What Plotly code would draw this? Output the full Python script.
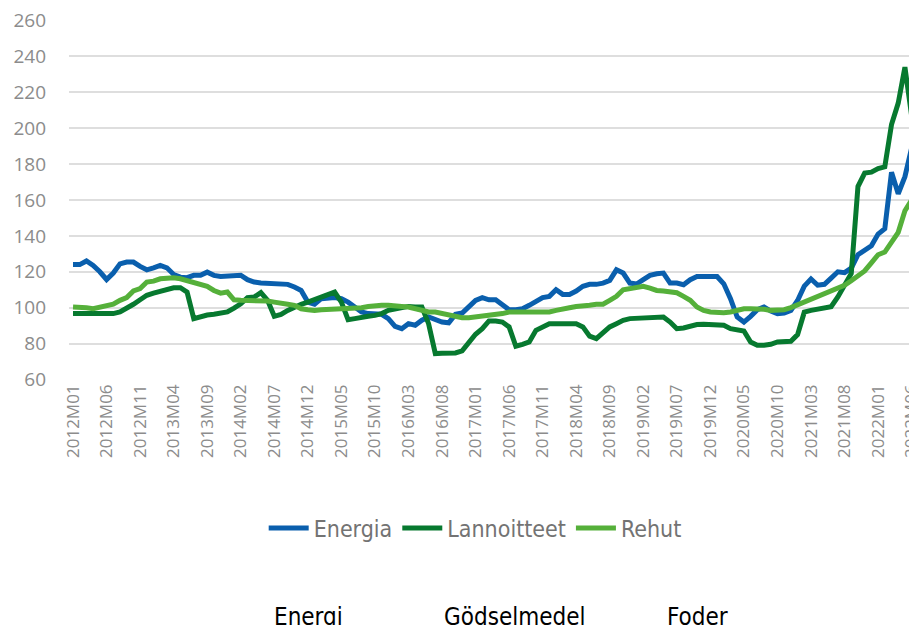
import plotly.graph_objects as go

# months 2012M01 .. 2022M07
months = []
for year in range(2012, 2023):
    for m in range(1, 13):
        months.append(f"{year}M{m:02d}")
months = months[:127]
tick_labels = months[::5]

energia = [
    124, 124, 126, 123.5, 120, 115.7, 119.3, 124.4, 125.4, 125.4,
    123, 121.1, 122.2, 123.5, 122.2, 118.5, 117, 116.7, 118, 118,
    119.8, 118, 117.4, 117.8, 117.8, 118.1, 115.6, 114.3, 113.8, 113.7,
    113.7, 113.3, 113, 111.5, 109.6, 103.1, 101.9, 105, 105.6, 105.6,
    105, 103.1, 100.4, 97.6, 96.7, 96.7, 96.3, 93.9, 89.6, 88.3,
    91.1, 90.2, 93, 94.8, 93.3, 92, 91.6, 96.3, 97, 100.4,
    104.1, 105.6, 104.4, 104.4, 101.3, 98.9, 98.9, 99.4, 101.3, 103.1,
    105.6, 106.3, 110, 107.4, 107.4, 109.3, 111.9, 113, 113, 113.7,
    115.2, 121.1, 119.3, 113.7, 113.2, 115.6, 118, 118.9, 119.3, 113.7,
    113.7, 112.8, 115.6, 117.4, 117.4, 117.4, 117.4, 113.3, 105, 94.8,
    92, 95.2, 98.9, 100.4, 98.1, 96.7, 97, 98.5, 104, 112,
    116, 112.5, 113, 116.5, 120, 119.5, 122, 129.5, 132, 134.5,
    141, 144, 175.5, 163.5, 173, 189, 180,
]

lannoitteet = [
    96.7, 96.7, 96.7, 96.7, 96.7, 96.7, 96.7, 97.6, 99.4, 101.9,
    104.4, 106.9, 108.1, 109.3, 110.2, 111.1, 111.1, 108.7, 93.9, 95.2,
    95.9, 96.3, 96.7, 97.6, 99.8, 102.2, 105.6, 105.9, 108.4, 104.1,
    95.2, 96.3, 98.5, 100.4, 101.9, 103.1, 104.4, 105.9, 107.4, 108.7,
    103.1, 93.3, 93.9, 94.8, 95.2, 95.7, 96.7, 98.5, 99.4, 100.4,
    100.7, 100.4, 100.4, 91.1, 74.4, 74.6, 74.8, 74.8, 75.9, 80.4,
    85.2, 88.3, 92.6, 92.6, 92, 89.3, 78.5, 79.6, 80.9, 87.4,
    89.6, 91.1, 91.1, 91.1, 91.1, 91.1, 89.3, 84.1, 82.8, 86.5,
    89.3, 91.1, 93, 93.9, 94.1, 94.4, 94.4, 94.4, 94.8, 92,
    88.3, 88.7, 89.6, 90.6, 90.7, 90.7, 90.7, 90.2, 88.3, 87.8,
    87, 80.9, 79.1, 79.1, 79.6, 80.9, 80.9, 81.3, 85, 97.5,
    98.5, 99, 99.3, 100.5, 106, 112, 119, 167.5, 175, 175.5,
    177.5, 178.5, 202, 214, 234, 207, 201,
]

rehut = [
    100.4, 100.4, 100, 99.4, 100.4, 101.3, 101.9, 104.1, 105.6, 109.3,
    110.6, 114.3, 114.8, 116.1, 116.7, 116.7, 116.1, 115.2, 114.3, 113.3,
    111.9, 109.6, 108.1, 108.7, 104.4, 104.1, 104.1, 103.9, 103.9, 103.7,
    103.1, 102.2, 101.9, 101.3, 99.4, 98.9, 98.5, 98.9, 99.1, 99.4,
    99.4, 99.4, 99.4, 100, 100.7, 101.3, 101.3, 101.3, 101.3, 100.7,
    100.4, 99.4, 98.5, 97.6, 97.6, 96.9, 95.7, 94.8, 94.4, 94.4,
    94.8, 94.8, 95.2, 95.7, 96.7, 97.6, 97.6, 97.6, 97.6, 97,
    97, 97.6, 98.5, 98.9, 100, 100.7, 100.7, 101.3, 101.9, 101.9,
    104.1, 106.3, 110, 110.6, 111.5, 111.9, 110.9, 109.6, 109.3, 108.7,
    108.3, 106.3, 104.1, 100.4, 98.5, 97.6, 97.2, 97.2, 97.6, 98.5,
    99.4, 99.4, 99.4, 99.1, 98.5, 98.5, 98.9, 100, 101.5, 103,
    104.5, 106, 107.5, 109, 110.5, 112.5, 115, 118, 120.5, 125,
    129.5, 131, 137, 142, 154, 160, 161.5,
]

y_ticks = [60, 80, 100, 120, 140, 160, 180, 200, 220, 240, 260]

series = [
    ("Energia", energia, "#0a5fad"),
    ("Lannoitteet", lannoitteet, "#07792f"),
    ("Rehut", rehut, "#55b03a"),
]

fig = go.Figure()
for name, vals, col in series:
    fig.add_trace(go.Scatter(
        x=months, y=vals, mode="lines", name=name,
        line=dict(color=col, width=5),
    ))

fig.update_xaxes(
    type="category",
    range=[-0.6, 125.8],
    tickmode="array", tickvals=tick_labels, ticktext=tick_labels,
    tickangle=-90,
    tickfont=dict(family="Open Sans, sans-serif", size=17, color="#8c8c8c"),
    showgrid=False, showline=False, zeroline=False, ticks="",
    automargin=False, ticklabeloverflow="allow",
)
fig.update_yaxes(
    range=[59.7, 260.3],
    tickvals=y_ticks,
    tickfont=dict(family="Open Sans, sans-serif", size=19, color="#8c8c8c"),
    showgrid=True, gridcolor="#dedede", gridwidth=1.5,
    zeroline=False, showline=False, ticks="",
    ticklabelstandoff=22, automargin=False, ticklabeloverflow="allow",
)

# labels of the chart below, cut off at the bottom
for txt, xp in [("Energi", 308), ("Gödselmedel", 515), ("Foder", 697)]:
    fig.add_annotation(
        x=(xp - 69) / 848, y=(380 - 617) / 360, xref="paper", yref="paper",
        text=txt, showarrow=False, xanchor="center", yanchor="middle",
        font=dict(family="Liberation Sans Narrow, DejaVu Sans Condensed, sans-serif",
                  size=24, color="#000000"),
    )

# page body has an 8px margin, so the figure is sized to end at the window edge
fig.update_layout(
    width=909, height=617,
    margin=dict(l=61, r=0, t=12, b=245),
    plot_bgcolor="white", paper_bgcolor="white",
    showlegend=True,
    legend=dict(
        orientation="h", x=0.479, y=(380 - 528) / 360,
        xanchor="center", yanchor="middle",
        font=dict(family="Liberation Sans Narrow, DejaVu Sans Condensed, sans-serif",
                  size=23, color="#737373"),
        itemwidth=40, tracegroupgap=0,
    ),
)

fig.write_html("out.html")
